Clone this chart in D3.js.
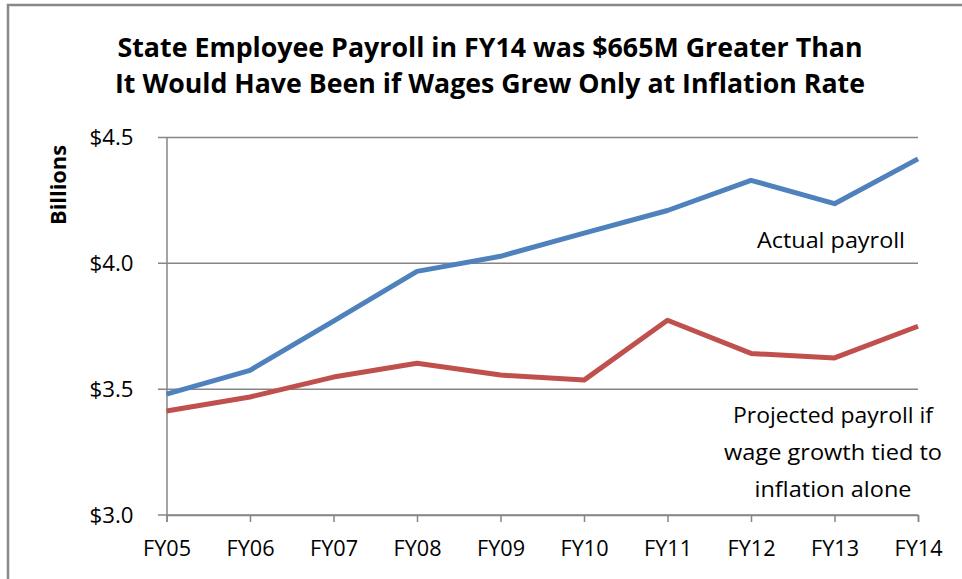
<!DOCTYPE html>
<html><head><meta charset="utf-8">
<script src="https://cdn.jsdelivr.net/npm/d3@7"></script>
<style>body{margin:0;background:#fff}svg{display:block}text{font-family:"Open Sans","Noto Sans",sans-serif}</style>
</head><body>
<svg id="c" width="962" height="579"></svg>
<script>
const years = ["FY05","FY06","FY07","FY08","FY09","FY10","FY11","FY12","FY13","FY14"];
const actualPayroll = [3.48,3.575,3.77,3.968,4.028,4.12,4.21,4.33,4.237,4.415];
const projectedPayroll = [3.413,3.469,3.548,3.603,3.556,3.536,3.774,3.642,3.624,3.75];
const yTicks = [3.0,3.5,4.0,4.5];
const titleLines = ["State Employee Payroll in FY14 was $665M Greater Than","It Would Have Been if Wages Grew Only at Inflation Rate"];

const svg = d3.select("#c");
// outer frame
svg.append("path").attr("d","M8,600 V5 H970").attr("fill","none").attr("stroke","#888").attr("stroke-width",2.5);

const x = d3.scalePoint().domain(years).range([166.5,918]);
const y = d3.scaleLinear().domain([3,4.5]).range([515,137.5]);

// gridlines
svg.append("g").selectAll("line").data(yTicks).join("line")
  .attr("x1",158).attr("x2",918).attr("y1",d=>y(d)).attr("y2",d=>y(d))
  .attr("stroke","#868686").attr("stroke-width",1.5);

// y axis
const ya = svg.append("g").attr("transform","translate(166.5,0)")
  .call(d3.axisLeft(y).tickValues(yTicks).tickSize(0).tickPadding(33).tickFormat(d=>"$"+d3.format(".1f")(d)));
ya.select(".domain").attr("stroke","#868686").attr("stroke-width",1.5);
ya.selectAll("text").attr("font-size",22).attr("fill","#000").attr("font-family","'Open Sans',sans-serif")
  .attr("textLength",44).attr("lengthAdjust","spacingAndGlyphs");

// x axis
const xa = svg.append("g").attr("transform","translate(0,515)")
  .call(d3.axisBottom(x).tickSize(7).tickPadding(18));
xa.select(".domain").attr("stroke","#868686").attr("stroke-width",1.5);
xa.selectAll("line").attr("stroke","#868686").attr("stroke-width",1.5);
xa.selectAll("text").attr("font-size",22).attr("fill","#000").attr("font-family","'Open Sans',sans-serif")
  .attr("textLength",48).attr("lengthAdjust","spacingAndGlyphs");

const line = d3.line().x((d,i)=>x(years[i])).y(d=>y(d));
svg.append("path").datum(projectedPayroll).attr("d",line).attr("fill","none")
  .attr("stroke","#C0504D").attr("stroke-width",5).attr("stroke-linejoin","round");
svg.append("path").datum(actualPayroll).attr("d",line).attr("fill","none")
  .attr("stroke","#4F81BD").attr("stroke-width",5).attr("stroke-linejoin","round");

// title
svg.append("g").selectAll("text").data(titleLines).join("text")
  .attr("x",490).attr("y",(d,i)=>57+i*36).attr("text-anchor","middle")
  .attr("font-size",26).attr("font-weight","bold").attr("fill","#000")
  .attr("textLength",(d,i)=>i===0?745:750).attr("lengthAdjust","spacingAndGlyphs")
  .text(d=>d);

// axis title
svg.append("text").attr("transform","translate(66,185) rotate(-90)").attr("text-anchor","middle")
  .attr("font-size",22).attr("font-weight","bold").attr("textLength",80).attr("lengthAdjust","spacingAndGlyphs").text("Billions");

// annotations
svg.append("text").attr("x",831).attr("y",248).attr("text-anchor","middle").attr("font-size",22)
  .attr("textLength",148).attr("lengthAdjust","spacingAndGlyphs").text("Actual payroll");
const projLines = ["Projected payroll if","wage growth tied to","inflation alone"];
const projWidths = [200,218,157];
svg.append("g").selectAll("text").data(projLines).join("text")
  .attr("x",833).attr("y",(d,i)=>423+i*37).attr("text-anchor","middle").attr("font-size",22)
  .attr("textLength",(d,i)=>projWidths[i]).attr("lengthAdjust","spacingAndGlyphs").text(d=>d);
</script>
</body></html>
